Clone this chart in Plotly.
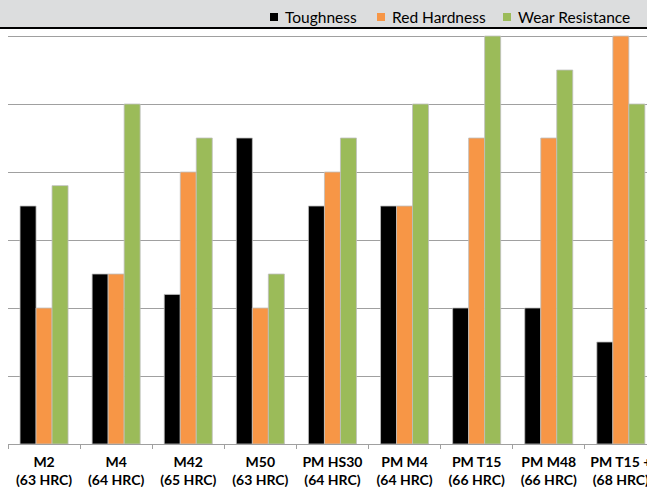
import plotly.graph_objects as go

# Tool steel grades and their relative property ratings
grades = ["M2<br>(63 HRC)", "M4<br>(64 HRC)", "M42<br>(65 HRC)", "M50<br>(63 HRC)",
          "PM HS30<br>(64 HRC)", "PM M4<br>(64 HRC)", "PM T15<br>(66 HRC)",
          "PM M48<br>(66 HRC)", "PM T15 +<br>(68 HRC)"]
toughness = [3.5, 2.5, 2.2, 4.5, 3.5, 3.5, 2.0, 2.0, 1.5]
red_hardness = [2.0, 2.5, 4.0, 2.0, 4.0, 3.5, 4.5, 4.5, 6.0]
wear_resistance = [3.8, 5.0, 4.5, 2.5, 4.5, 5.0, 6.0, 5.5, 5.0]

series_names = ["Toughness", "Red Hardness", "Wear Resistance"]
series_colors = ["#000000", "#F79646", "#9BBB59"]
series_values = [toughness, red_hardness, wear_resistance]

W, H = 647, 487
ML, MT, MB = 8, 34, 43
plot_w = W - ML
plot_h = H - MT - MB
y_top = 6.03


def px_x(x):
    return (x - ML) / plot_w


def px_y(y):
    return 1 + (MT - y) / plot_h


fig = go.Figure()
for name, vals, color in zip(series_names, series_values, series_colors):
    fig.add_trace(go.Bar(
        x=grades, y=vals, name=name, showlegend=False,
        marker=dict(color=color, line=dict(color="#BFBFBF", width=0.8)),
    ))

# Grey header band with a dark rule beneath it
fig.add_shape(type="rect", xref="paper", yref="paper", layer="below",
              x0=px_x(0), x1=1.0, y0=px_y(28), y1=px_y(-2),
              fillcolor="#DCDDDE", line=dict(width=0))
fig.add_shape(type="line", xref="paper", yref="paper",
              x0=px_x(0), x1=1.0, y0=px_y(28), y1=px_y(28),
              line=dict(color="#000000", width=2))

# Key in the header band: square swatch followed by the series name
key_x = [270, 377, 503]
for name, color, kx in zip(series_names, series_colors, key_x):
    fig.add_shape(type="rect", xref="paper", yref="paper",
                  x0=px_x(kx), x1=px_x(kx + 8), y0=px_y(21), y1=px_y(13),
                  fillcolor=color, line=dict(width=0))
    fig.add_annotation(xref="paper", yref="paper", x=px_x(kx + 13), y=px_y(17),
                       xanchor="left", yanchor="middle", text=name,
                       showarrow=False, font=dict(size=15.5, color="#000000"))

fig.update_layout(
    width=W, height=H,
    margin=dict(l=ML, r=0, t=MT, b=MB, pad=0),
    paper_bgcolor="#FFFFFF", plot_bgcolor="#FFFFFF",
    barmode="group", bargap=0.334, bargroupgap=0,
    showlegend=False,
    font=dict(family="Lato, sans-serif", color="#000000"),
    xaxis=dict(range=[-0.5, -0.5 + plot_w / 72.1], showgrid=False,
               automargin=False,
               showline=True, linecolor="#A0A0A0", linewidth=1,
               ticks="outside", tickson="boundaries", ticklen=4,
               tickcolor="#A0A0A0", ticklabelstandoff=5,
               tickfont=dict(size=14, family="Lato, sans-serif", weight="bold"),
               fixedrange=True),
    yaxis=dict(range=[0, y_top], dtick=1, showgrid=True, gridcolor="#A0A0A0",
               gridwidth=1, showticklabels=False, zeroline=False,
               automargin=False,
               showline=False, ticks="", fixedrange=True),
)

fig.write_html("out.html")
